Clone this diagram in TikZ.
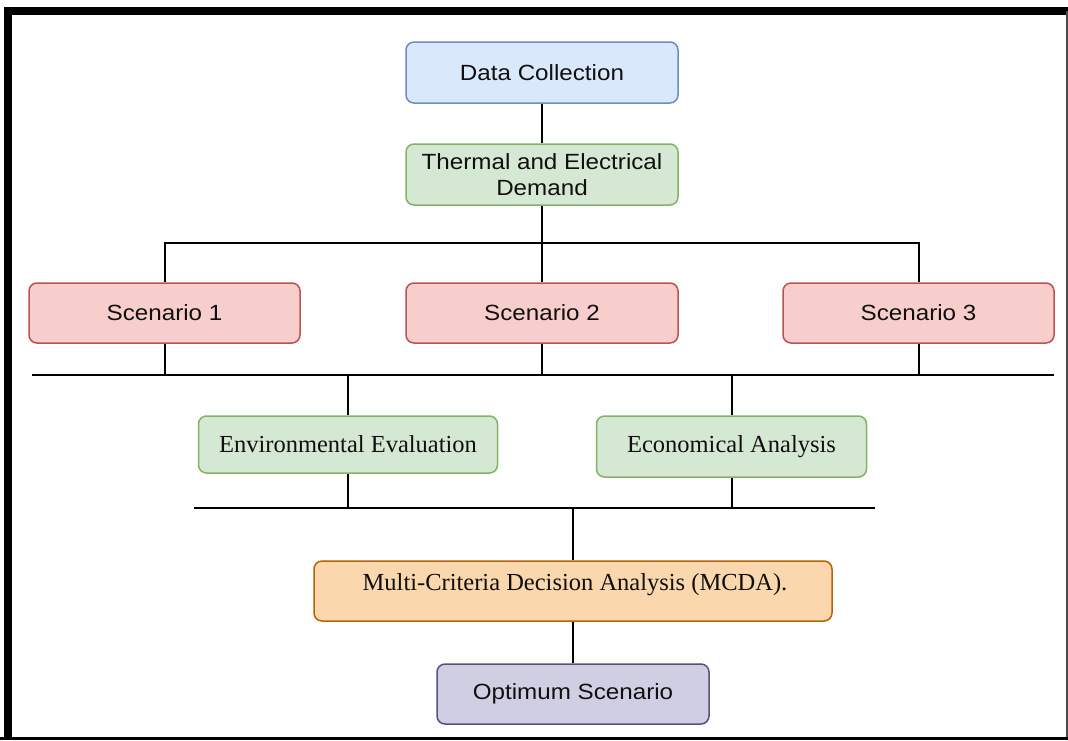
\documentclass[tikz,border=0pt]{standalone}
\usepackage{fontspec}
\setmainfont{Liberation Serif}
\newfontfamily\boxsans[FakeStretch=1.1]{Liberation Sans}
\definecolor{bfill}{HTML}{DAE8FC}\definecolor{bdraw}{HTML}{6C8EBF}
\definecolor{gfill}{HTML}{D5E8D4}\definecolor{gdraw}{HTML}{82B366}
\definecolor{rfill}{HTML}{F8CECC}\definecolor{rdraw}{HTML}{B85450}
\definecolor{ofill}{HTML}{FAD7AC}\definecolor{odraw}{HTML}{B46504}
\definecolor{pfill}{HTML}{D0CEE2}\definecolor{pdraw}{HTML}{56517E}
\definecolor{txt}{HTML}{101010}
\begin{document}
\begin{tikzpicture}[x=1pt,y=-1pt,
  box/.style={rectangle,rounded corners=8pt,line width=1.5pt,inner sep=0pt,align=center,text=txt},
  sansbox/.style={box,font=\boxsans\fontsize{22}{26}\selectfont},
  serifbox/.style={box,font=\fontsize{24.5}{28}\selectfont},
  conn/.style={line width=2pt,draw=black}]
\useasboundingbox (0,0) rectangle (1068,740);
\fill[white] (0,0) rectangle (1068,740);
% frame
\draw[line width=8pt] (8,740) -- (8,11) -- (1068,11);
\draw[line width=1.5pt,black!70] (1067,11) -- (1067,740);
\fill[black] (0,737) rectangle (1068,740);
% nodes
\node[sansbox,fill=bfill,draw=bdraw,minimum width=272pt,minimum height=61pt] (dc) at (542,72.5) {Data Collection};
\node[sansbox,fill=gfill,draw=gdraw,minimum width=272pt,minimum height=61pt] (th) at (542,174.5) {Thermal and Electrical\\Demand};
\node[sansbox,fill=rfill,draw=rdraw,minimum width=271pt,minimum height=60pt] (s1) at (164.5,313) {Scenario 1};
\node[sansbox,fill=rfill,draw=rdraw,minimum width=272pt,minimum height=60pt] (s2) at (542,313) {Scenario 2};
\node[sansbox,fill=rfill,draw=rdraw,minimum width=271pt,minimum height=60pt] (s3) at (918.5,313) {Scenario 3};
\node[serifbox,fill=gfill,draw=gdraw,minimum width=299pt,minimum height=57pt] (env) at (348,444.5) {Environmental Evaluation};
\node[serifbox,fill=gfill,draw=gdraw,minimum width=270pt,minimum height=61pt] (eco) at (731.5,446.5) {Economical Analysis};
\node[serifbox,fill=ofill,draw=odraw,minimum width=518pt,minimum height=60pt] (mcda) at (573,591) {};
\node[serifbox,anchor=center] (mcdat) at (575,585) {Multi-Criteria Decision Analysis (MCDA).};
\node[sansbox,fill=pfill,draw=pdraw,minimum width=272pt,minimum height=60pt] (opt) at (573,694) {Optimum Scenario};
% junction coordinates
\coordinate (j1) at (542,243);
\coordinate (j2l) at (32,375);
\coordinate (j2r) at (1054,375);
\coordinate (j3l) at (194,508);
\coordinate (j3r) at (875,508);
% connectors
\draw[conn] (dc.south) -- (th.north);
\draw[conn] (th.south) -- (s2.north);
\draw[conn] (s1.north) -- (s1.north |- j1) -- (s3.north |- j1) -- (s3.north);
\draw[conn] (j2l) -- (j2r);
\draw[conn] (s1.south) -- (s1.south |- j2l);
\draw[conn] (s2.south) -- (s2.south |- j2l);
\draw[conn] (s3.south) -- (s3.south |- j2l);
\draw[conn] (env.north) -- (env.north |- j2l);
\draw[conn] (eco.north) -- (eco.north |- j2l);
\draw[conn] (j3l) -- (j3r);
\draw[conn] (env.south) -- (env.south |- j3l);
\draw[conn] (eco.south) -- (eco.south |- j3l);
\draw[conn] (mcda.north) -- (mcda.north |- j3l);
\draw[conn] (mcda.south) -- (opt.north);
\end{tikzpicture}
\end{document}
